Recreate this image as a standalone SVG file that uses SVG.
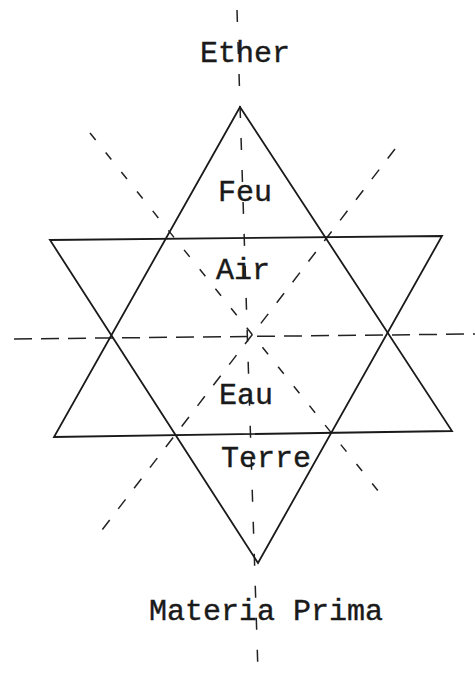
<svg xmlns="http://www.w3.org/2000/svg" width="475" height="676" viewBox="0 0 475 676">
<style>
.tri{fill:none;stroke:#1a1a1a;stroke-width:1.8;stroke-linejoin:miter}
.dash{fill:none;stroke:#222;stroke-width:1.5}
.lbl{font-family:"Liberation Mono","Courier New",monospace;font-size:30px;fill:#1a1a1a;text-anchor:middle;stroke:#1a1a1a;stroke-width:0.4}
</style>
<rect width="475" height="676" fill="#fff"/>
<g id="axes">
<line class="dash" x1="237" y1="10" x2="258" y2="672" stroke-dasharray="12 20"/>
<line class="dash" x1="14" y1="339" x2="475" y2="334" stroke-dasharray="18 9"/>
<line class="dash" x1="90" y1="133" x2="387" y2="502" stroke-dasharray="9 16"/>
<line class="dash" x1="395" y1="149" x2="102" y2="530" stroke-dasharray="12 14"/>
</g>
<g id="triangles">
<polygon id="tri-up" class="tri" points="240,107 452,431 54,437"/>
<polygon id="tri-down" class="tri" points="50,240 442,236 258,563"/>
</g>
<g id="labels">
<text id="ether" class="lbl" x="245" y="62">Ether</text>
<text id="feu" class="lbl" x="245" y="201">Feu</text>
<text id="air" class="lbl" x="243" y="279">Air</text>
<text id="eau" class="lbl" x="246" y="404">Eau</text>
<text id="terre" class="lbl" x="266" y="467">Terre</text>
<text id="materia" class="lbl" x="266" y="620">Materia Prima</text>
</g>
</svg>
